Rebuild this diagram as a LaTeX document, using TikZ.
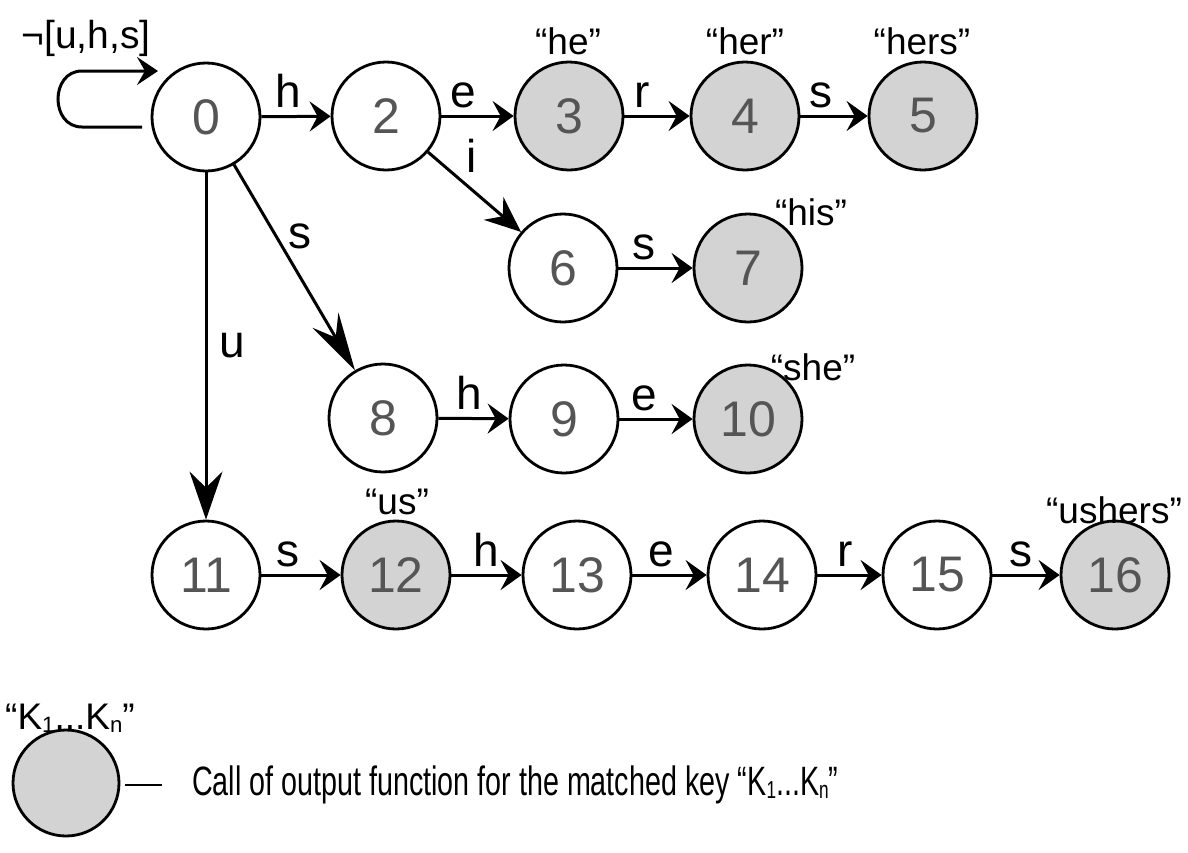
\documentclass[tikz,border=0pt]{standalone}
\usepackage{fontspec}
\usepackage{graphicx}
\setmainfont{Liberation Sans}
\newfontfamily\narrowfont[FakeStretch=0.7]{Liberation Sans}
\usetikzlibrary{arrows.meta,calc}
\definecolor{fillgray}{HTML}{D3D3D3}
\definecolor{digitgray}{HTML}{555555}
\newcommand\subtxt[1]{\raisebox{-0.08em}{\scalebox{0.6}{#1}}}
\begin{document}
\begin{tikzpicture}[x=1pt,y=-1pt,
  state/.style={circle,draw=black,line width=2.8pt,minimum size=108pt,inner sep=0pt,
                text=digitgray,font=\fontsize{50}{52}\selectfont},
  acc/.style={state,fill=fillgray},
  lab/.style={anchor=base,yshift=9pt,inner sep=0pt,font=\fontsize{46}{48}\selectfont},
  dlab/.style={anchor=center,inner sep=0pt,font=\fontsize{46}{48}\selectfont},
  ann/.style={inner sep=0pt,font=\fontsize{37}{40}\selectfont},
  arr/.style={line width=3pt,-{Stealth[length=21pt,width=30pt,inset=8pt]}},
  arrbig/.style={line width=3pt,-{Stealth[length=48pt,width=33pt,inset=16pt]}},
  arrlong/.style={line width=3pt,-{Stealth[length=58pt,width=30pt,inset=20pt]}},
  arrmid/.style={line width=3pt,-{Stealth[length=36pt,width=30pt,inset=12pt]}}
]
\useasboundingbox (0,0) rectangle (1188,852);
\fill[white] (0,0) rectangle (1188,852);

% states
\node[state] (n0) at (206,117) {0};
\node[state] (n2) at (386,116) {2};
\node[acc]   (n3) at (569,116) {3};
\node[acc]   (n4) at (745,116) {4};
\node[acc]   (n5) at (923,116) {5};
\node[state] (n6) at (563,268) {6};
\node[acc]   (n7) at (748,268) {7};
\node[state] (n8) at (383,418) {8};
\node[state] (n9) at (564,419) {9};
\node[acc]   (n10) at (748,419) {10};
\node[state] (n11) at (206,575) {11};
\node[acc]   (n12) at (396,575) {12};
\node[state] (n13) at (577,575) {13};
\node[state] (n14) at (762,575) {14};
\node[state] (n15) at (937,575) {15};
\node[acc]   (n16) at (1115,575) {16};

% output annotations
\node[ann] (w3) at (568,41) {“he”};
\node[ann] (w4) at (745,41) {“her”};
\node[ann] (w5) at (922,41) {“hers”};
\node[ann] (w7) at (811,212) {“his”};
\node[ann] (w10) at (813,367) {“she”};
\node[ann] (w12) at (397,502) {“us”};
\node[ann] (w16) at (1114,510) {“ushers”};

% self loop on 0
\coordinate (ls) at ($(n0.center)+(-64,10)$);
\coordinate (le) at ($(n0.center)+(-48,-46)$);
\draw[line width=3pt,-{Stealth[length=21pt,width=28pt,inset=8pt]}]
  (ls) -- ($(n0.center)+(-124,10)$)
  .. controls ($(n0.center)+(-156,10)$) and ($(n0.center)+(-156,-46)$) .. ($(n0.center)+(-124,-46)$)
  -- (le);
\node[inner sep=0pt,font=\fontsize{39}{42}\selectfont] (looplab) at (86,38) {¬[u,h,s]};

% transitions
\draw[arr] (n0) -- node[lab,pos=0.39] {h} (n2);
\draw[arr] (n2) -- node[lab,pos=0.3] {e} (n3);
\draw[arr] (n3) -- node[lab,pos=0.27] {r} (n4);
\draw[arr] (n4) -- node[lab,pos=0.3] {s} (n5);
\draw[arrmid] (n2) -- node[dlab,pos=0.29,xshift=17pt,yshift=19pt] {i} (n6);
\draw[arr] (n6) -- node[lab,pos=0.34] {s} (n7);
\draw[arrlong] (n0) -- node[dlab,pos=0.4,xshift=18pt,yshift=11pt] {s} (n8);
\draw[arr] (n8) -- node[lab,pos=0.44] {h} (n9);
\draw[arr] (n9) -- node[lab,pos=0.34] {e} (n10);
\draw[arrbig] (n0) -- node[dlab,pos=0.5,xshift=26pt] {u} (n11);
\draw[arr] (n11) -- node[lab,pos=0.34] {s} (n12);
\draw[arr] (n12) -- node[lab,pos=0.5] {h} (n13);
\draw[arr] (n13) -- node[lab,pos=0.39] {e} (n14);
\draw[arr] (n14) -- node[lab,pos=0.43] {r} (n15);
\draw[arr] (n15) -- node[lab,pos=0.43] {s} (n16);

% legend
\node[acc,minimum size=106pt] (leg) at (66,783) {};
\node[ann] (legk) at (70,718) {“K\subtxt{1}...K\subtxt{n}”};
\coordinate (dl1) at ($(leg.east)+(5,2)$);
\coordinate (dl2) at ($(leg.east)+(42,2)$);
\draw[line width=1.3pt] (dl1) -- (dl2);
\node[anchor=west,inner sep=0pt,font=\narrowfont\fontsize{41}{44}\selectfont] (legtext) at (192,785)
  {Call of output function for the matched key “K\subtxt{1}...K\subtxt{n}”};
\end{tikzpicture}
\end{document}
